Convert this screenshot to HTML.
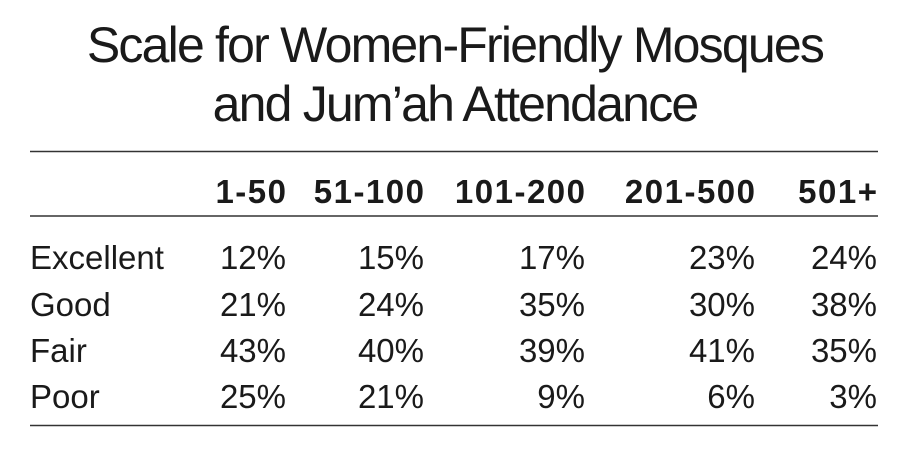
<!DOCTYPE html>
<html><head><meta charset="utf-8"><style>
html,body{margin:0;padding:0;background:#fff;}
svg{display:block;}
text{font-family:"Liberation Sans",Arial,sans-serif;fill:#1a1a1a;}
</style></head><body>
<svg width="916" height="458" viewBox="0 0 916 458">
<text x="455" y="62" font-size="50" letter-spacing="-1.8" text-anchor="middle">Scale for Women-Friendly Mosques</text>
<text x="455" y="121" font-size="50" letter-spacing="-1.8" text-anchor="middle">and Jum’ah Attendance</text>
<line x1="30" y1="151.5" x2="878" y2="151.5" stroke="#333" stroke-width="1.5"/>
<line x1="30" y1="216" x2="878" y2="216" stroke="#333" stroke-width="1.5"/>
<line x1="30" y1="425.5" x2="878" y2="425.5" stroke="#333" stroke-width="1.5"/>
<g font-size="33" font-weight="bold" letter-spacing="1.5" text-anchor="end">
<text x="287.5" y="203">1-50</text>
<text x="425.5" y="203">51-100</text>
<text x="586.5" y="203">101-200</text>
<text x="756.5" y="203">201-500</text>
<text x="878.5" y="203">501+</text>
</g>
<g font-size="33">
<text x="30" y="269">Excellent</text>
<text x="30" y="316">Good</text>
<text x="30" y="362">Fair</text>
<text x="30" y="408">Poor</text>
</g>
<g font-size="33" text-anchor="end">
<text x="286" y="269">12%</text><text x="424" y="269">15%</text><text x="585" y="269">17%</text><text x="755" y="269">23%</text><text x="877" y="269">24%</text>
<text x="286" y="316">21%</text><text x="424" y="316">24%</text><text x="585" y="316">35%</text><text x="755" y="316">30%</text><text x="877" y="316">38%</text>
<text x="286" y="362">43%</text><text x="424" y="362">40%</text><text x="585" y="362">39%</text><text x="755" y="362">41%</text><text x="877" y="362">35%</text>
<text x="286" y="408">25%</text><text x="424" y="408">21%</text><text x="585" y="408">9%</text><text x="755" y="408">6%</text><text x="877" y="408">3%</text>
</g>
</svg>
</body></html>
